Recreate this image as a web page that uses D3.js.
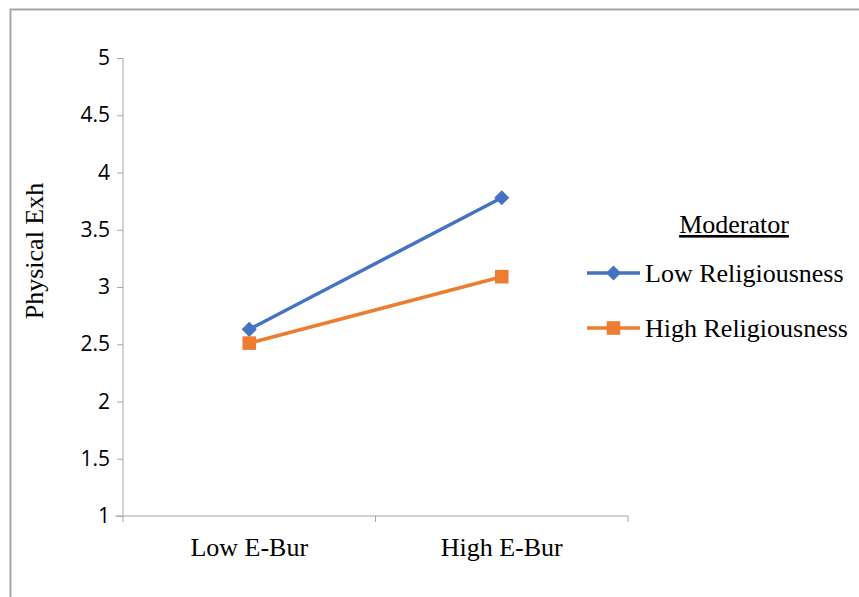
<!DOCTYPE html>
<html><head><meta charset="utf-8">
<script src="https://cdn.jsdelivr.net/npm/d3@7"></script>
<style>body{margin:0;background:#fff}</style>
</head><body>
<svg id="c" width="859" height="597"></svg>
<script>
const categories = ["Low E-Bur", "High E-Bur"];
const seriesNames = ["Low Religiousness", "High Religiousness"];
const lowReligiousness = [2.63, 3.78];
const highReligiousness = [2.51, 3.09];
const yTicks = [1, 1.5, 2, 2.5, 3, 3.5, 4, 4.5, 5];
const colors = ["#4472C4", "#ED7D31"];

const svg = d3.select("#c");
// frame
svg.append("path").attr("d","M10.5,597 L10.5,9.5 L859,9.5").attr("fill","none").attr("stroke","#a6a6a6").attr("stroke-width",2);

const y = d3.scaleLinear().domain([1,5]).range([516,58]);
const x = d3.scaleBand().domain(categories).range([123,628]);
const xc = c => x(c) + x.bandwidth()/2;

// y axis
const ya = svg.append("g").attr("transform","translate(123,0)")
  .call(d3.axisLeft(y).tickValues(yTicks).tickSize(6).tickPadding(7).tickFormat(d3.format("")));
ya.select(".domain").attr("stroke","#a6a6a6").attr("d","M0,58V516");
ya.selectAll(".tick line").attr("stroke","#a6a6a6");
ya.selectAll("text").style("font-family","'Open Sans', 'Liberation Sans', sans-serif").style("font-size","21px").attr("fill","#000");

// x axis
const xa = svg.append("g").attr("transform","translate(0,516)")
  .call(d3.axisBottom(x).tickSize(0).tickPadding(0));
xa.select(".domain").attr("stroke","#a6a6a6").attr("d","M115,0H628");
xa.selectAll("text").style("font-family","'Liberation Serif', 'Times New Roman', serif").style("font-size","26px").attr("fill","#000").attr("dy",null).attr("y",40);
[123, 375.5, 628].forEach(px => svg.append("line").attr("x1",px).attr("x2",px).attr("y1",516).attr("y2",522).attr("stroke","#a6a6a6"));

// y title
svg.append("text").attr("transform","translate(43,251) rotate(-90)").attr("text-anchor","middle")
  .style("font-family","'Liberation Serif', serif").style("font-size","26px").text("Physical Exh");

const series = [lowReligiousness, highReligiousness];
const line = d3.line().x((d,i)=>xc(categories[i])).y(d=>y(d));
const diamond = d3.symbol().type(d3.symbolDiamond2).size(145);
const square = d3.symbol().type(d3.symbolSquare).size(185);

series.forEach((s,k)=>{
  svg.append("path").attr("d",line(s)).attr("fill","none").attr("stroke",colors[k]).attr("stroke-width",3.5);
  svg.selectAll(null).data(s).join("path")
    .attr("transform",(d,i)=>`translate(${xc(categories[i])},${y(d)})`)
    .attr("d", k===0 ? diamond() : square()).attr("fill",colors[k]);
});

// legend
svg.append("text").attr("x",734).attr("y",233).attr("text-anchor","middle")
  .style("font-family","'Liberation Serif', serif").style("font-size","26px").attr("text-decoration","underline").text("Moderator");
seriesNames.forEach((n,k)=>{
  const ly = 273 + k*55;
  svg.append("line").attr("x1",587).attr("x2",640).attr("y1",ly).attr("y2",ly).attr("stroke",colors[k]).attr("stroke-width",3.5);
  svg.append("path").attr("transform",`translate(613.5,${ly})`).attr("d", k===0?diamond():square()).attr("fill",colors[k]);
  svg.append("text").attr("x",645).attr("y",ly+9).style("font-family","'Liberation Serif', serif").style("font-size","26px").text(n);
});
</script>
</body></html>
